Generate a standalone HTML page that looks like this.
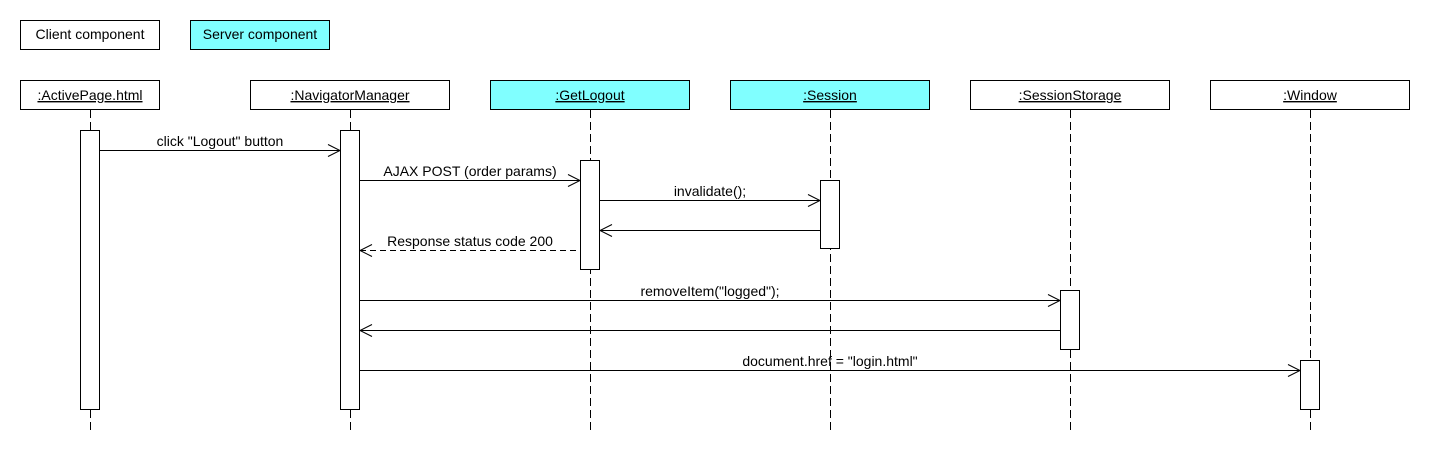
<!DOCTYPE html>
<html><head><style>body{margin:0;background:#fff}</style></head><body>
<svg width="1430" height="470" xmlns="http://www.w3.org/2000/svg" font-family="Liberation Sans, Arial, sans-serif" font-size="14">
<rect width="1430" height="470" fill="#fff"/>
<g stroke="#000" fill="#fff" shape-rendering="crispEdges">
<rect x="20.5" y="20.5" width="139" height="29"/>
<rect x="190.5" y="20.5" width="139" height="29" fill="#80ffff"/>
<rect x="20.5" y="80.5" width="139" height="29"/>
<rect x="250.5" y="80.5" width="199" height="29"/>
<rect x="490.5" y="80.5" width="199" height="29" fill="#80ffff"/>
<rect x="730.5" y="80.5" width="199" height="29" fill="#80ffff"/>
<rect x="970.5" y="80.5" width="199" height="29"/>
<rect x="1210.5" y="80.5" width="199" height="29"/>
</g>
<g stroke="#000" stroke-dasharray="8,4">
<line x1="90.5" y1="110" x2="90.5" y2="430"/>
<line x1="350.5" y1="110" x2="350.5" y2="430"/>
<line x1="590.5" y1="110" x2="590.5" y2="430"/>
<line x1="830.5" y1="110" x2="830.5" y2="430"/>
<line x1="1070.5" y1="110" x2="1070.5" y2="430"/>
<line x1="1310.5" y1="110" x2="1310.5" y2="430"/>
</g>
<g stroke="#000" fill="#fff" shape-rendering="crispEdges">
<rect x="80.5" y="130.5" width="19" height="279"/>
<rect x="340.5" y="130.5" width="19" height="279"/>
<rect x="580.5" y="160.5" width="19" height="109"/>
<rect x="820.5" y="180.5" width="19" height="68"/>
<rect x="1060.5" y="290.5" width="19" height="59"/>
<rect x="1300.5" y="360.5" width="19" height="49"/>
</g>
<g stroke="#000" fill="none">
<line x1="100" y1="150.5" x2="340" y2="150.5"/><path d="M328 144.5L340 150.5L328 156.5"/>
<line x1="360" y1="180.5" x2="580" y2="180.5"/><path d="M568 174.5L580 180.5L568 186.5"/>
<line x1="600" y1="200.5" x2="820" y2="200.5"/><path d="M808 194.5L820 200.5L808 206.5"/>
<line x1="600" y1="230.5" x2="820" y2="230.5"/><path d="M612 224.5L600 230.5L612 236.5"/>
<line x1="360" y1="250.5" x2="580" y2="250.5" stroke-dasharray="6,4"/><path d="M372 244.5L360 250.5L372 256.5"/>
<line x1="360" y1="300.5" x2="1060" y2="300.5"/><path d="M1048 294.5L1060 300.5L1048 306.5"/>
<line x1="360" y1="330.5" x2="1060" y2="330.5"/><path d="M372 324.5L360 330.5L372 336.5"/>
<line x1="360" y1="370.5" x2="1300" y2="370.5"/><path d="M1288 364.5L1300 370.5L1288 376.5"/>
</g>
<g fill="#000" text-anchor="middle">
<text x="90" y="39">Client component</text>
<text x="260" y="39">Server component</text>
<g text-decoration="underline">
<text x="90" y="100">:ActivePage.html</text>
<text x="350" y="100">:NavigatorManager</text>
<text x="590" y="100">:GetLogout</text>
<text x="830" y="100">:Session</text>
<text x="1070" y="100">:SessionStorage</text>
<text x="1310" y="100">:Window</text>
</g>
<text x="220" y="146">click "Logout" button</text>
<text x="470" y="176">AJAX POST (order params)</text>
<text x="710" y="196">invalidate();</text>
<text x="470" y="246">Response status code 200</text>
<text x="710" y="296">removeItem("logged");</text>
<text x="830" y="366">document.href = "login.html"</text>
</g>
</svg>
</body></html>
